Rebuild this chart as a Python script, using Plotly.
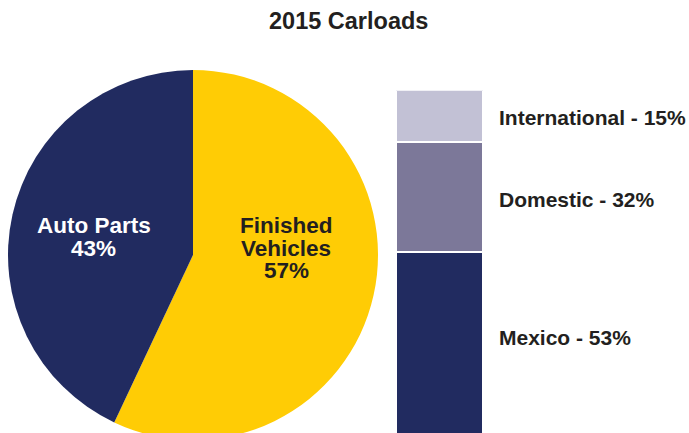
import plotly.graph_objects as go

# ---- data ----
title_text = "2015 Carloads"
pie_labels = ["Finished<br>Vehicles", "Auto Parts"]
pie_values = [57, 43]
pie_colors = ["#FFCC05", "#212B60"]
pie_text_colors = ["#231F20", "#FFFFFF"]

bar_labels = ["Mexico", "Domestic", "International"]
bar_values = [53, 32, 15]
bar_colors = ["#212B60", "#7C7899", "#C2C1D5"]

# ---- canvas geometry (pixels) ----
W, H = 689, 441
FONT = "Liberation Sans, Arial, Helvetica, sans-serif"
TXT = "#231F20"


def fx(px):
    return px / W


def fy(py):
    return (H - py) / H


fig = go.Figure()

# pie: starts at 12 o'clock, runs clockwise
fig.add_trace(go.Pie(
    labels=[l.replace("<br>", " ") for l in pie_labels],
    values=pie_values,
    marker=dict(colors=pie_colors, line=dict(width=0)),
    sort=False,
    direction="clockwise",
    rotation=0,
    textinfo="none",
    hoverinfo="label+percent",
    showlegend=False,
    domain=dict(x=[fx(8), fx(378)], y=[fy(440), fy(70)]),
))

# stacked bar for the Auto Parts breakdown
for lab, val, col in zip(bar_labels, bar_values, bar_colors):
    fig.add_trace(go.Bar(
        x=[0], y=[val], name=lab,
        marker=dict(color=col, line=dict(color="white", width=2)),
        width=1, xaxis="x2", yaxis="y2", showlegend=False,
        hovertemplate=f"{lab}: {val}%<extra></extra>",
    ))

annotations = [dict(
    text=f"<b>{title_text}</b>", x=fx(348), y=fy(21), xref="paper", yref="paper",
    xanchor="center", yanchor="middle", showarrow=False,
    font=dict(family=FONT, size=23.5, color=TXT),
)]

# pie labels, one annotation per line for tight line spacing
pie_label_pos = [(286, 225.5), (93.5, 225.5)]
LINE = 22.5
for lab, val, col, (cx, cy) in zip(pie_labels, pie_values, pie_text_colors, pie_label_pos):
    lines = lab.split("<br>") + [f"{val}%"]
    for i, ln in enumerate(lines):
        annotations.append(dict(
            text=f"<b>{ln}</b>", x=fx(cx), y=fy(cy + i * LINE),
            xref="paper", yref="paper", xanchor="center", yanchor="middle",
            showarrow=False, font=dict(family=FONT, size=22.5, color=col),
        ))

# bar segment labels, placed beside the middle of each segment
bottoms = [sum(bar_values[:i]) for i in range(len(bar_values))]
label_shift = [6, -3, -1]
for lab, val, b, sh in zip(bar_labels, bar_values, bottoms, label_shift):
    annotations.append(dict(
        text=f"<b>{lab} - {val}%</b>", x=fx(497), y=b + val / 2, yshift=sh,
        xref="paper", yref="y2", xanchor="left", yanchor="middle",
        showarrow=False, font=dict(family=FONT, size=21, color=TXT),
    ))

fig.update_layout(
    width=W, height=H,
    margin=dict(l=0, r=0, t=0, b=0),
    paper_bgcolor="white", plot_bgcolor="white",
    barmode="stack", bargap=0,
    xaxis2=dict(domain=[fx(396), fx(483)], range=[-0.5, 0.5], anchor="y2",
                visible=False, fixedrange=True),
    yaxis2=dict(domain=[fy(434.2), fy(90.4)], range=[0, 100], anchor="x2",
                visible=False, fixedrange=True),
    xaxis=dict(visible=False), yaxis=dict(visible=False),
    annotations=annotations,
)

fig.write_html(
    "out.html",
    config=dict(displayModeBar=False),
    post_script="document.documentElement.style.overflow='hidden';document.body.style.overflow='hidden';document.body.style.margin='0';",
)
